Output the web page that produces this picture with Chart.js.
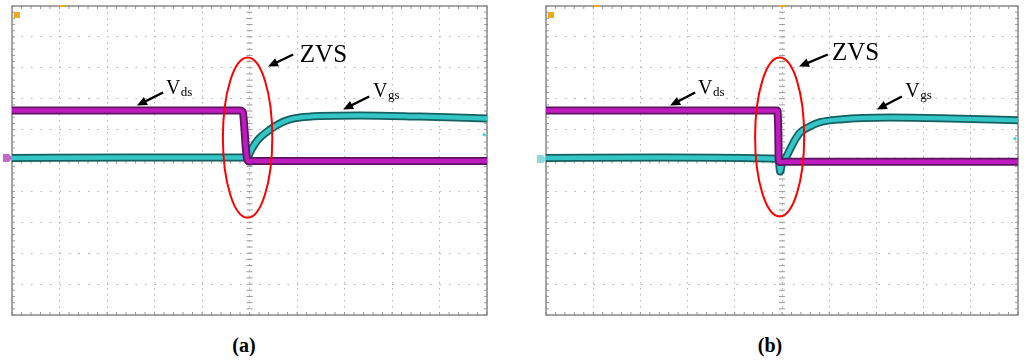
<!DOCTYPE html>
<html>
<head>
<meta charset="utf-8">
<script src="https://cdn.jsdelivr.net/npm/chart.js@4.4.0/dist/chart.umd.min.js"></script>
<style>
  html, body { margin: 0; padding: 0; background: #fff; }
  body { width: 1024px; height: 360px; position: relative; overflow: hidden; }
  .panel { position: absolute; top: 0; height: 320px; }
  #wrap-a { left: 0; width: 500px; }
  #wrap-b { left: 534px; width: 490px; }
  .cap { position: absolute; top: 334px; width: 60px; text-align: center; line-height: 20px;
         font: bold 20px "Liberation Serif", serif; color: #000; }
</style>
</head>
<body>
<div class="panel" id="wrap-a"><canvas id="scope-a"></canvas></div>
<div class="panel" id="wrap-b"><canvas id="scope-b"></canvas></div>
<div class="cap" style="left:214px">(a)</div>
<div class="cap" style="left:740px">(b)</div>
<script>
// time in screen divisions (0..10), level in divisions from centre line
const vdsTimeA = [0, 4.80, 4.86, 4.89, 4.92, 4.95, 4.99, 5.10, 7.5, 10];
const vdsLevelA = [1.62, 1.62, 1.56, 1.10, 0.45, 0.05, -0.03, -0.02, -0.02, -0.02];
const vgsTimeA = [0, 2.5, 4.90, 4.97, 5.01, 5.12, 5.22, 5.43, 5.64, 5.85, 6.06, 6.48, 7.33, 8.59, 10];
const vgsLevelA = [0.08, 0.10, 0.10, 0.10, 0.26, 0.55, 0.74, 1.00, 1.20, 1.33, 1.39, 1.44, 1.46, 1.42, 1.36];

const vdsTimeB = [0, 4.90, 4.92, 4.93, 4.96, 5.10, 7.5, 10];
const vdsLevelB = [1.62, 1.62, 1.00, 0.00, -0.05, -0.04, -0.04, -0.04];
const vgsTimeB = [0, 2.5, 4.92, 4.94, 4.96, 5.00, 5.06, 5.17, 5.28, 5.38, 5.59, 5.81, 6.23, 7.29, 8.35, 10];
const vgsLevelB = [0.08, 0.10, 0.06, -0.10, -0.36, -0.10, 0.03, 0.36, 0.68, 0.90, 1.10, 1.24, 1.33, 1.39, 1.37, 1.30];

const PURPLE = '#bf1cbf', PURPLE_EDGE = '#5c1460';
const CYAN = '#34c6c6', CYAN_EDGE = '#145f5f';

const toPoints = (t, v) => t.map((x, i) => ({ x: x, y: v[i] }));

function traceSets(t, v, core, edge, order) {
    const pts = toPoints(t, v);
    return [
        { data: pts, borderColor: edge, borderWidth: 8, pointRadius: 0, order: order + 1, cubicInterpolationMode: 'monotone' },
        { data: pts, borderColor: core, borderWidth: 4.5, pointRadius: 0, order: order, cubicInterpolationMode: 'monotone' }
    ];
}

function arrow(ctx, x1, y1, x2, y2) {
    const a = Math.atan2(y2 - y1, x2 - x1);
    const L = 10, W = 4.5;
    ctx.beginPath();
    ctx.moveTo(x1, y1);
    ctx.lineTo(x2 - L * 0.7 * Math.cos(a), y2 - L * 0.7 * Math.sin(a));
    ctx.stroke();
    ctx.beginPath();
    ctx.moveTo(x2, y2);
    ctx.lineTo(x2 - L * Math.cos(a) + W * Math.sin(a), y2 - L * Math.sin(a) - W * Math.cos(a));
    ctx.lineTo(x2 - L * Math.cos(a) - W * Math.sin(a), y2 - L * Math.sin(a) + W * Math.cos(a));
    ctx.closePath();
    ctx.fill();
}

// oscilloscope frame and fine ticks on the centre cross
const scopeFrame = {
    id: 'scopeFrame',
    beforeDatasetsDraw(chart) {
        const { ctx, chartArea: a, scales: { x, y } } = chart;
        const cx = x.getPixelForValue(5), cy = y.getPixelForValue(0);
        ctx.save();
        ctx.strokeStyle = '#9a9a9a';
        ctx.lineWidth = 1;
        ctx.beginPath();
        for (let i = 0; i <= 50; i++) {
            const px = x.getPixelForValue(i / 5);
            ctx.moveTo(px, cy - 3); ctx.lineTo(px, cy + 3);
            ctx.moveTo(px, a.bottom); ctx.lineTo(px, a.bottom - 3);
            ctx.moveTo(px, a.top); ctx.lineTo(px, a.top + 3);
            const py = y.getPixelForValue(-5 + i / 5);
            ctx.moveTo(cx - 3, py); ctx.lineTo(cx + 3, py);
            ctx.moveTo(a.left, py); ctx.lineTo(a.left + 3, py);
            ctx.moveTo(a.right, py); ctx.lineTo(a.right - 3, py);
        }
        ctx.stroke();
        ctx.strokeStyle = '#8a8a8a';
        ctx.lineWidth = 1.5;
        ctx.strokeRect(a.left, a.top, a.width, a.height);
        ctx.restore();
    }
};

// ellipse, arrows, labels and channel markers
const scopeNotes = {
    id: 'scopeNotes',
    afterDatasetsDraw(chart, args, o) {
        const { ctx, chartArea: a, scales: { x, y } } = chart;
        const X = v => x.getPixelForValue(v), Y = v => y.getPixelForValue(v);
        ctx.save();
        // markers
        ctx.fillStyle = '#f2a81e';
        ctx.fillRect(a.left + 2, a.top + 6, 6, 6);
        o.trig.forEach(t => ctx.fillRect(X(t) - 3, a.top - 1, 6, 2));
        ctx.fillStyle = o.chColor;
        ctx.beginPath();
        ctx.moveTo(a.left - 9, Y(o.chLevel) - 4);
        ctx.lineTo(a.left - 3, Y(o.chLevel) - 4);
        ctx.lineTo(a.left, Y(o.chLevel));
        ctx.lineTo(a.left - 3, Y(o.chLevel) + 4);
        ctx.lineTo(a.left - 9, Y(o.chLevel) + 4);
        ctx.closePath();
        ctx.fill();
        ctx.fillStyle = '#3fd6e0';
        ctx.beginPath();
        ctx.arc(a.right - 3, Y(o.dot), 1.6, 0, Math.PI * 2);
        ctx.fill();
        // ellipse
        const e = o.ellipse;
        ctx.strokeStyle = '#ff0000';
        ctx.lineWidth = 2;
        ctx.beginPath();
        ctx.ellipse(X(e.x), Y(e.y), X(e.x + e.rx) - X(e.x), Y(e.y) - Y(e.y + e.ry), 0, 0, Math.PI * 2);
        ctx.stroke();
        // arrows
        ctx.strokeStyle = '#000';
        ctx.fillStyle = '#000';
        ctx.lineWidth = 2.4;
        o.arrows.forEach(r => arrow(ctx, X(r[0]), Y(r[1]), X(r[2]), Y(r[3])));
        // labels
        ctx.textBaseline = 'alphabetic';
        o.labels.forEach(l => {
            ctx.font = l.size + 'px "Liberation Serif", serif';
            ctx.fillText(l.main, X(l.x), Y(l.y));
            if (l.sub) {
                const w = ctx.measureText(l.main).width;
                ctx.font = '13px "Liberation Serif", serif';
                ctx.fillText(l.sub, X(l.x) + w + 0.5, Y(l.y) + 2);
            }
        });
        ctx.restore();
    }
};

function makeScope(id, sets, notes, pad) {
    return new Chart(document.getElementById(id), {
        type: 'line',
        data: { datasets: sets },
        plugins: [scopeFrame, scopeNotes],
        options: {
            responsive: true,
            maintainAspectRatio: false,
            animation: false,
            layout: { padding: pad },
            plugins: { legend: { display: false }, tooltip: { enabled: false }, scopeNotes: notes },
            scales: {
                x: {
                    type: 'linear', min: 0, max: 10,
                    ticks: { display: false, stepSize: 1 },
                    grid: { color: '#b4b4b4', lineWidth: 1, drawTicks: false },
                    border: { display: false, dash: [1.5, 4.5] },
                    afterFit: s => { s.height = 0; }
                },
                y: {
                    type: 'linear', min: -5, max: 5,
                    ticks: { display: false, stepSize: 1 },
                    grid: { color: '#b4b4b4', lineWidth: 1, drawTicks: false },
                    border: { display: false, dash: [1.5, 8] },
                    afterFit: s => { s.width = 0; }
                }
            }
        }
    });
}

makeScope('scope-a',
    [...traceSets(vdsTimeA, vdsLevelA, PURPLE, PURPLE_EDGE, 1), ...traceSets(vgsTimeA, vgsLevelA, CYAN, CYAN_EDGE, 3)],
    {
        trig: [1.06], chColor: '#c468c8', chLevel: 0.08, dot: 0.84,
        ellipse: { x: 4.96, y: 0.74, rx: 0.52, ry: 2.59 },
        arrows: [[5.92, 3.43, 5.39, 3.04], [3.18, 2.20, 2.63, 1.78], [7.52, 2.07, 6.97, 1.65]],
        labels: [
            { main: 'ZVS', x: 6.06, y: 3.20, size: 25 },
            { main: 'V', sub: 'ds', x: 3.24, y: 2.14, size: 20 },
            { main: 'V', sub: 'gs', x: 7.60, y: 2.04, size: 20 }
        ]
    },
    { left: 12, top: 6, right: 13, bottom: 5 });

makeScope('scope-b',
    [...traceSets(vdsTimeB, vdsLevelB, PURPLE, PURPLE_EDGE, 1), ...traceSets(vgsTimeB, vgsLevelB, CYAN, CYAN_EDGE, 3)],
    {
        trig: [1.08, 5.0], chColor: '#8fd8dc', chLevel: 0.05, dot: 0.71,
        ellipse: { x: 4.95, y: 0.76, rx: 0.52, ry: 2.57 },
        arrows: [[5.97, 3.43, 5.36, 3.04], [3.16, 2.20, 2.63, 1.78], [7.54, 2.07, 7.01, 1.65]],
        labels: [
            { main: 'ZVS', x: 6.06, y: 3.24, size: 25 },
            { main: 'V', sub: 'ds', x: 3.22, y: 2.14, size: 20 },
            { main: 'V', sub: 'gs', x: 7.61, y: 2.07, size: 20 }
        ]
    },
    { left: 12, top: 6, right: 6, bottom: 5 });
</script>
</body>
</html>
